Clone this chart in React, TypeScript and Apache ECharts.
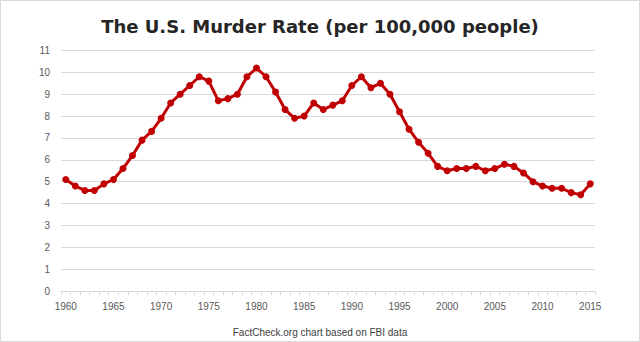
import React, { useEffect, useRef } from "react";
import * as echarts from "echarts";

const years: string[] = [];
for (let y = 1960; y <= 2015; y++) years.push(String(y));

const murderRate = [
  5.1, 4.8, 4.6, 4.6, 4.9, 5.1, 5.6, 6.2, 6.9, 7.3,
  7.9, 8.6, 9.0, 9.4, 9.8, 9.6, 8.7, 8.8, 9.0, 9.8,
  10.2, 9.8, 9.1, 8.3, 7.9, 8.0, 8.6, 8.3, 8.5, 8.7,
  9.4, 9.8, 9.3, 9.5, 9.0, 8.2, 7.4, 6.8, 6.3, 5.7,
  5.5, 5.6, 5.6, 5.7, 5.5, 5.6, 5.8, 5.7, 5.4, 5.0,
  4.8, 4.7, 4.7, 4.5, 4.4, 4.9,
];

const titleText = "The U.S. Murder Rate (per 100,000 people)";
const footerText = "FactCheck.org chart based on FBI data";

export default function App() {
  const ref = useRef<HTMLDivElement>(null);
  useEffect(() => {
    if (!ref.current) return;
    const chart = echarts.init(ref.current, null, { renderer: "svg" });
    chart.setOption({
      animation: false,
      backgroundColor: "#ffffff",
      title: {
        text: titleText,
        left: "center",
        top: 12,
        textStyle: {
          fontFamily: "DejaVu Sans",
          fontWeight: "bold",
          fontSize: 18,
          color: "#262626",
        },
      },
      graphic: [
        {
          type: "rect",
          shape: { x: 0.5, y: 0.5, width: 639, height: 341 },
          style: { fill: "none", stroke: "#d9d9d9", lineWidth: 1 },
          silent: true,
        },
        {
          type: "text",
          left: "center",
          top: 327,
          style: {
            text: footerText,
            fontFamily: "Liberation Sans",
            fontSize: 10,
            fill: "#404040",
          },
        },
      ],
      grid: { left: 61, right: 45, top: 50.5, bottom: 51, containLabel: false },
      xAxis: {
        type: "category",
        data: years,
        boundaryGap: true,
        axisLine: { lineStyle: { color: "#d9d9d9", width: 1 } },
        axisTick: { show: true, interval: 0, length: 4, lineStyle: { color: "#d9d9d9" } },
        axisLabel: {
          interval: 4,
          color: "#595959",
          fontFamily: "Liberation Sans",
          fontSize: 10,
          margin: 10,
        },
      },
      yAxis: {
        type: "value",
        min: 0,
        max: 11,
        interval: 1,
        axisLine: { show: false },
        axisTick: { show: false },
        splitLine: { lineStyle: { color: "#d9d9d9", width: 1 } },
        axisLabel: {
          color: "#595959",
          fontFamily: "Liberation Sans",
          fontSize: 10,
          margin: 11,
        },
      },
      series: [
        {
          type: "line",
          data: murderRate,
          symbol: "circle",
          symbolSize: 7,
          showAllSymbol: true,
          lineStyle: { color: "#c00000", width: 3 },
          itemStyle: { color: "#c00000" },
        },
      ],
    });
    return () => chart.dispose();
  }, []);
  return <div ref={ref} style={{ width: 640, height: 342, position: "absolute", left: 0, top: 0 }} />;
}
